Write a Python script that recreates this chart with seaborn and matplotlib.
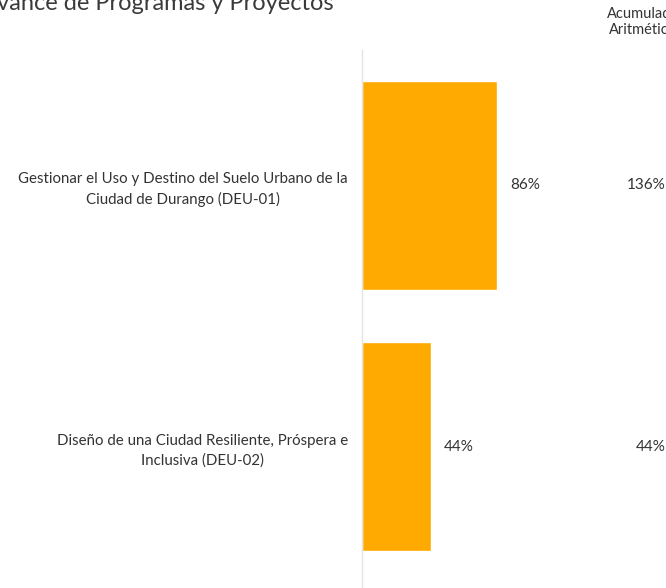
import matplotlib
matplotlib.use("Agg")
import matplotlib.pyplot as plt
import matplotlib.transforms as mtransforms
import seaborn as sns
import pandas as pd

categories = [
    "Gestionar el Uso y Destino del Suelo Urbano de la\nCiudad de Durango (DEU-01)",
    "Diseño de una Ciudad Resiliente, Próspera e\nInclusiva (DEU-02)",
]
avance = [86, 44]
acumulado = [136, 44]
avance_labels = ["86%", "44%"]
acumulado_labels = ["136%", "44%"]

df = pd.DataFrame({"programa": categories, "avance": avance})

sns.set_theme(style="white")
plt.rcParams["font.family"] = ["Lato", "DejaVu Sans"]

W, H = 666, 588
fig = plt.figure(figsize=(W / 100, H / 100), dpi=100)
ax = fig.add_axes([362 / W, 0, 236 / W, 1 - 50 / H])

sns.barplot(data=df, x="avance", y="programa", orient="h", color="#FFAA00",
            saturation=1, width=0.8, ax=ax)

ax.set_xlim(0, 150)
ax.set_ylim(1.542, -0.519)
ax.set_xlabel("")
ax.set_ylabel("")
ax.set_xticks([])
for s in ["top", "right", "bottom"]:
    ax.spines[s].set_visible(False)
ax.spines["left"].set_color("#e4e4e4")
ax.spines["left"].set_linewidth(1.0)
ax.tick_params(axis="y", length=0, pad=10, labelsize=10.8, labelcolor="#333333")
for t in ax.get_yticklabels():
    t.set_horizontalalignment("right")
    t.set_multialignment("center")
    t.set_linespacing(1.45)

for i, (v, lab) in enumerate(zip(avance, avance_labels)):
    ax.text(v + 8, i, lab, va="center", ha="left", fontsize=11, color="#333333")

right_tr = mtransforms.blended_transform_factory(fig.transFigure, ax.transData)
for i, lab in enumerate(acumulado_labels):
    ax.text(666 / W, i, lab, transform=right_tr, va="center",
            ha="right", fontsize=11, color="#333333")

fig.text(-19 / W, 1 - 10 / H, "Avance de Programas y Proyectos", fontsize=17,
         color="#3a3a3a", ha="left", va="baseline")
fig.text(607 / W, 1 - 22 / H, "Acumulado\nAritmético", fontsize=10.5,
         color="#333333", ha="left", va="center", multialignment="center",
         linespacing=1.1)

fig.savefig("out.png", dpi=100)
